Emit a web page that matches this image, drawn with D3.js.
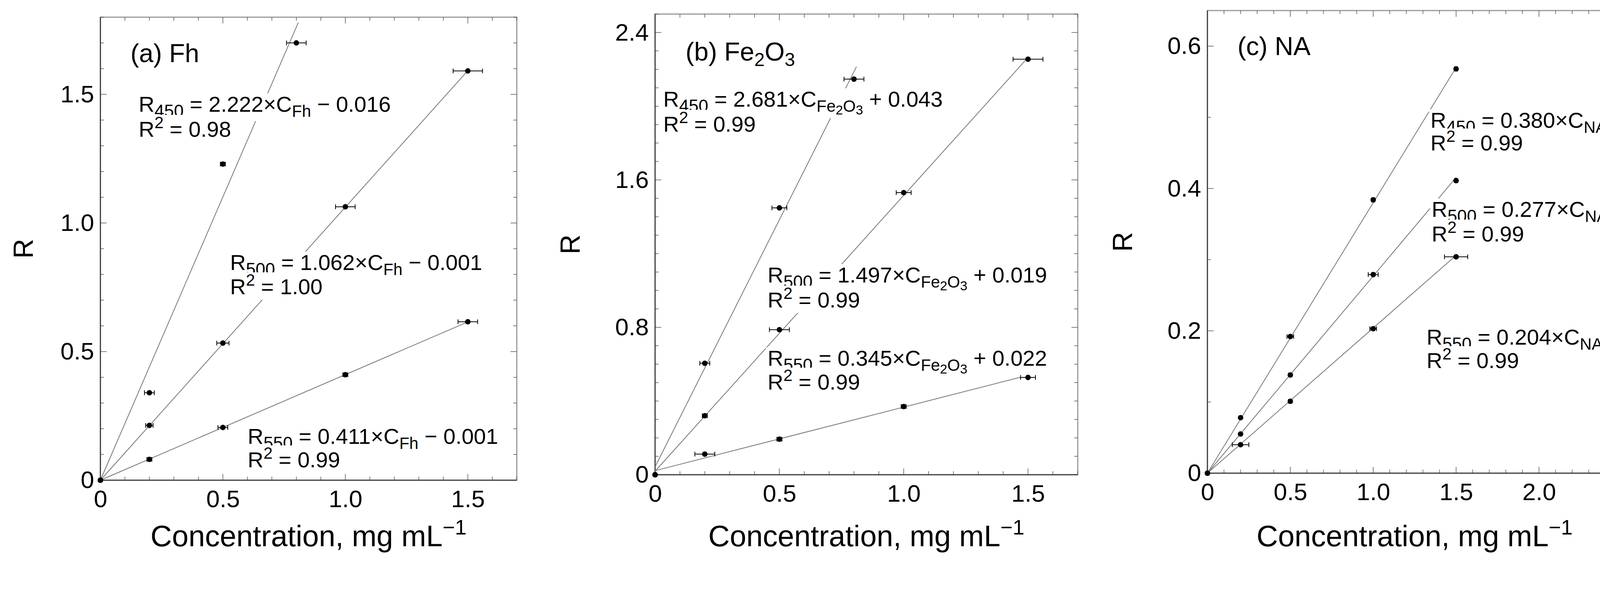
<!DOCTYPE html>
<html><head><meta charset="utf-8">
<script src="https://cdn.jsdelivr.net/npm/d3@7"></script>
<style>html,body{margin:0;padding:0;background:#fff;overflow:hidden}svg{display:block}text{font-family:"Liberation Sans",Arial,sans-serif}</style>
</head><body><svg id="c" width="4222" height="1574"></svg>
<script>
// panel a (Fh)
const aX450 = [0, 0.2, 0.5, 0.8], aY450 = [0, 0.34, 1.229, 1.70], aE450 = [0, 0.02, 0.01, 0.04];
const aX500 = [0, 0.2, 0.5, 1.0, 1.5], aY500 = [0, 0.213, 0.533, 1.063, 1.591], aE500 = [0, 0.015, 0.025, 0.04, 0.06];
const aX550 = [0, 0.2, 0.5, 1.0, 1.5], aY550 = [0, 0.081, 0.205, 0.41, 0.616], aE550 = [0, 0.01, 0.02, 0.01, 0.04];
// panel b (Fe2O3)
const bX450 = [0, 0.2, 0.5, 0.8], bY450 = [0, 0.605, 1.448, 2.147], bE450 = [0, 0.02, 0.03, 0.04];
const bX500 = [0, 0.2, 0.5, 1.0, 1.5], bY500 = [0, 0.32, 0.787, 1.531, 2.255], bE500 = [0, 0.01, 0.04, 0.03, 0.06];
const bX550 = [0, 0.2, 0.5, 1.0, 1.5], bY550 = [0, 0.112, 0.193, 0.370, 0.528], bE550 = [0, 0.04, 0.01, 0.01, 0.03];
// panel c (NA)
const cX450 = [0, 0.2, 0.5, 1.0, 1.5], cY450 = [0, 0.078, 0.192, 0.384, 0.568], cE450 = [0, 0.005, 0.02, 0.01, 0.01];
const cX500 = [0, 0.2, 0.5, 1.0, 1.5], cY500 = [0, 0.055, 0.138, 0.279, 0.411], cE500 = [0, 0.005, 0.01, 0.03, 0.01];
const cX550 = [0, 0.2, 0.5, 1.0, 1.5], cY550 = [0, 0.040, 0.101, 0.203, 0.304], cE550 = [0, 0.05, 0.01, 0.02, 0.07];
// fits [slope, intercept, xEnd]
const fitsA = [[2.222, -0.016, 0.808], [1.062, -0.001, 1.5], [0.411, -0.001, 1.5]];
const fitsB = [[2.681, 0.043, 0.81], [1.497, 0.019, 1.5], [0.345, 0.022, 1.5]];
const fitsC = [[0.380, 0, 1.5], [0.277, 0, 1.5], [0.204, 0, 1.5]];
const yTicksA = [0, 0.5, 1.0, 1.5], yTicksB = [0, 0.8, 1.6, 2.4], yTicksC = [0, 0.2, 0.4, 0.6];
const xTicksAB = [0, 0.5, 1.0, 1.5], xTicksC = [0, 0.5, 1.0, 1.5, 2.0, 2.5];

const SUB = 13, SUP = -22;
function eq(w, num, subst, tail){ return [["R",0,1],[w,SUB,0.8],[" = "+num+"×C",0,1]].concat(subst).concat([[tail,0,1]]); }
const subFh = [["Fh",SUB,0.75]], subFe = [["Fe",SUB,0.75],["2",SUB+7,0.6],["O",SUB,0.75],["3",SUB+7,0.6]], subNA = [["NA",SUB,0.75]];
const r2 = v => [["R",0,1],["2",SUP,0.75],[" = "+v,0,1]];

const svg = d3.select("#c");
function rich(g, x, y, segs, fs){
  const t = g.append("text").attr("x", x).attr("y", y).attr("font-size", fs).attr("fill","#000");
  let cur = 0;
  segs.forEach(([s, sh, sc]) => { t.append("tspan").attr("dy", sh - cur).attr("font-size", fs*sc).text(s); cur = sh; });
  return t;
}

function panel(o){
  const g = svg.append("g");
  const x = d3.scaleLinear().domain([0, o.xmax]).range([o.l, o.r]);
  const y = d3.scaleLinear().domain([0, o.ymax]).range([o.b, o.t]);
  const fmt = v => v === 0 ? "0" : v.toFixed(1);
  g.append("rect").attr("x", o.l).attr("y", o.t).attr("width", o.r-o.l).attr("height", o.b-o.t).attr("fill","none").attr("stroke","#999").attr("stroke-width",3);
  const xm = d3.range(0, o.xmax+1e-9, 0.1), ym = d3.range(0, o.ymax+1e-9, 0.1);
  const tk = g.append("g").attr("stroke","#555").attr("stroke-width",1.5);
  xm.forEach(v => { const maj = o.xt.some(m=>Math.abs(m-v)<1e-6); const L = maj?16:9;
    tk.append("line").attr("x1",x(v)).attr("x2",x(v)).attr("y1",o.b).attr("y2",o.b-L);
    tk.append("line").attr("x1",x(v)).attr("x2",x(v)).attr("y1",o.t).attr("y2",o.t+L); });
  ym.forEach(v => { const maj = o.yt.some(m=>Math.abs(m-v)<1e-6); const L = maj?16:9;
    tk.append("line").attr("y1",y(v)).attr("y2",y(v)).attr("x1",o.l).attr("x2",o.l+L);
    tk.append("line").attr("y1",y(v)).attr("y2",y(v)).attr("x1",o.r).attr("x2",o.r-L); });
  g.append("line").attr("x1",o.l).attr("x2",o.l).attr("y1",o.t).attr("y2",o.b).attr("stroke","#333").attr("stroke-width",2.5);
  g.append("line").attr("x1",o.l).attr("x2",o.r).attr("y1",o.b).attr("y2",o.b).attr("stroke","#333").attr("stroke-width",2.5);
  const ax = g.append("g").attr("transform",`translate(0,${o.b})`).call(d3.axisBottom(x).tickValues(o.xt).tickFormat(fmt).tickSize(0).tickPadding(22));
  const ay = g.append("g").attr("transform",`translate(${o.l},0)`).call(d3.axisLeft(y).tickValues(o.yt).tickFormat(fmt).tickSize(0).tickPadding(16));
  [ax, ay].forEach(a => { a.select(".domain").remove(); a.selectAll("text").attr("font-size",62).attr("font-family","Liberation Sans, Arial").attr("fill","#000"); });
  ax.selectAll("text").attr("dy","0.75em");
  o.fits.forEach(f => g.append("line").attr("x1",x(0)).attr("y1",y(Math.max(0,f[1]))).attr("x2",x(f[2])).attr("y2",y(f[0]*f[2]+f[1])).attr("stroke","#777").attr("stroke-width",2));
  o.labels.forEach(([lx, ly, segs]) => {
    const t = rich(g, lx, ly, segs, 56);
    const bb = t.node().getBBox();
    g.insert("rect", () => t.node()).attr("x",bb.x-4).attr("y",bb.y+4).attr("width",bb.width+8).attr("height",bb.height-2).attr("fill","#fff");
  });
  rich(g, o.title[0], o.title[1], o.title[2], 66);
  o.series.forEach(([xs, ys, es]) => xs.forEach((xv,i) => {
    const e = es[i], cy = y(ys[i]);
    if (e > 0){
      g.append("line").attr("x1",x(xv-e)).attr("x2",x(xv+e)).attr("y1",cy).attr("y2",cy).attr("stroke","#000").attr("stroke-width",2);
      [xv-e, xv+e].forEach(ev => g.append("line").attr("x1",x(ev)).attr("x2",x(ev)).attr("y1",cy-6).attr("y2",cy+6).attr("stroke","#000").attr("stroke-width",2));
    }
    g.append("circle").attr("cx",x(xv)).attr("cy",cy).attr("r",7).attr("fill","#000");
  }));
  g.append("text").attr("transform",`translate(${o.yl},${(o.t+o.b)/2}) rotate(-90)`).attr("text-anchor","middle").attr("font-size",70).text("R");
  const xt = g.append("text").attr("x",(o.l+o.r)/2).attr("y",1398).attr("text-anchor","middle").attr("font-size",76);
  xt.append("tspan").text("Concentration, mg mL");
  xt.append("tspan").attr("dy",-30).attr("font-size",54).text("−1");
}

panel({l:257,r:1323,t:44,b:1229,xmax:1.7,ymax:1.8,xt:xTicksAB,yt:yTicksA,yl:84,fits:fitsA,
  series:[[aX450,aY450,aE450],[aX500,aY500,aE500],[aX550,aY550,aE550]],
  title:[334,159,[["(a) Fh",0,1]]],
  labels:[[355,286,eq("450","2.222",subFh," − 0.016")],[355,350,r2("0.98")],
          [589,691,eq("500","1.062",subFh," − 0.001")],[589,753,r2("1.00")],
          [634,1136,eq("550","0.411",subFh," − 0.001")],[634,1196,r2("0.99")]]});
panel({l:1677,r:2759,t:36,b:1215,xmax:1.7,ymax:2.5,xt:xTicksAB,yt:yTicksB,yl:1484,fits:fitsB,
  series:[[bX450,bY450,bE450],[bX500,bY500,bE500],[bX550,bY550,bE550]],
  title:[1755,155,[["(b) Fe",0,1],["2",14,0.72],["O",0,1],["3",14,0.72]]],
  labels:[[1698,273,eq("450","2.681",subFe," + 0.043")],[1698,337,r2("0.99")],
          [1965,723,eq("500","1.497",subFe," + 0.019")],[1965,787,r2("0.99")],
          [1965,936,eq("550","0.345",subFe," + 0.022")],[1965,997,r2("0.99")]]});
panel({l:3091,r:4152,t:27,b:1211,xmax:2.5,ymax:0.65,xt:xTicksC,yt:yTicksC,yl:2898,fits:fitsC,
  series:[[cX450,cY450,cE450],[cX500,cY500,cE500],[cX550,cY550,cE550]],
  title:[3168,141,[["(c) NA",0,1]]],
  labels:[[3662,327,eq("450","0.380",subNA,"")],[3662,385,r2("0.99")],
          [3665,555,eq("500","0.277",subNA,"")],[3665,618,r2("0.99")],
          [3652,882,eq("550","0.204",subNA,"")],[3652,942,r2("0.99")]]});
</script></body></html>
